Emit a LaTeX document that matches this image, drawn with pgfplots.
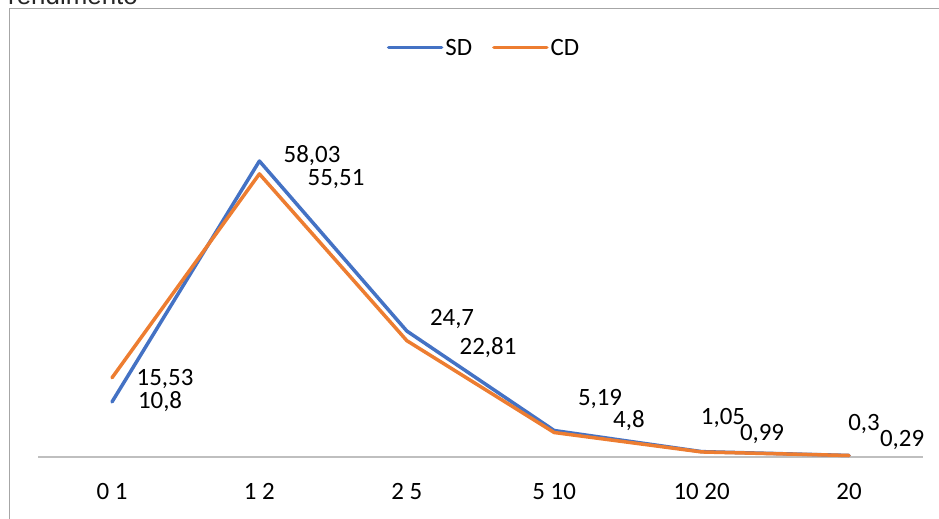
\documentclass[border=0pt]{standalone}
\usepackage{fontspec}
\setmainfont{Carlito}
\newfontfamily\titlefont{Liberation Sans}
\usepackage{pgfplots}
\pgfplotsset{compat=1.18}
\definecolor{sdblue}{HTML}{4472C4}
\definecolor{cdorange}{HTML}{ED7D31}
\definecolor{axgray}{HTML}{BFBFBF}
\definecolor{boxgray}{HTML}{A6A6A6}
\begin{document}
\begin{tikzpicture}[x=1bp,y=1bp]
\draw[boxgray, line width=1.5bp] (9.3,-20) -- (9.3,510.7) -- (960,510.7);
\node[anchor=base west, inner sep=0, font=\titlefont\fontsize{26}{30}\selectfont, text=black!85] at (8,514.5) {rendimento};
\begin{axis}[
  at={(38.3bp,62bp)}, anchor=south west, scale only axis,
  width=884.4bp, height=357bp,
  xmin=-0.5, xmax=5.5, ymin=0, ymax=70,
  clip=false,
  axis y line=none, axis x line*=bottom,
  x axis line style={axgray, line width=1.5bp, -},
  xtick={0,1,2,3,4,5},
  xticklabels={\mbox{0 1},\mbox{1 2},\mbox{2 5},\mbox{5 10},\mbox{10 20},\mbox{20}},
  major tick length=0pt,
  xticklabel style={font=\fontsize{25}{30}\selectfont, anchor=north, inner sep=0pt, yshift=-26bp},
  legend columns=2,
  legend style={at={(0.504,1.1465)}, anchor=center, draw=none, fill=none,
    font=\fontsize{25}{30}\selectfont,
    /tikz/every even column/.append style={column sep=18bp}},
  legend image code/.code={\draw[#1] (0bp,0bp) -- (53bp,0bp);},
]
\addplot[sdblue, line width=3.5bp, line join=round, line cap=round] coordinates {(0,10.8) (1,58.03) (2,24.7) (3,5.19) (4,1.05) (5,0.3)};
\addlegendentry{SD}
\addplot[cdorange, line width=3.5bp, line join=round, line cap=round] coordinates {(0,15.53) (1,55.51) (2,22.81) (3,4.8) (4,0.99) (5,0.29)};
\addlegendentry{CD}
\begin{scope}[every node/.style={font=\fontsize{25}{30}\selectfont, inner sep=0pt, anchor=center}]
\node at (axis cs:0.326,10.78) {10,8};
\node at (axis cs:0.360,15.29) {15,53};
\node at (axis cs:1.357,59.02) {58,03};
\node at (axis cs:1.520,54.51) {55,51};
\node at (axis cs:2.307,27.06) {24,7};
\node at (axis cs:2.551,21.37) {22,81};
\node at (axis cs:3.311,11.37) {5,19};
\node at (axis cs:3.507,7.06) {4,8};
\node at (axis cs:4.145,7.65) {1,05};
\node at (axis cs:4.410,4.51) {0,99};
\node at (axis cs:5.102,6.47) {0,3};
\node at (axis cs:5.360,3.33) {0,29};
\end{scope}
\end{axis}
\pgfresetboundingbox
\useasboundingbox (0,0) rectangle (939,519);
\end{tikzpicture}
\end{document}
